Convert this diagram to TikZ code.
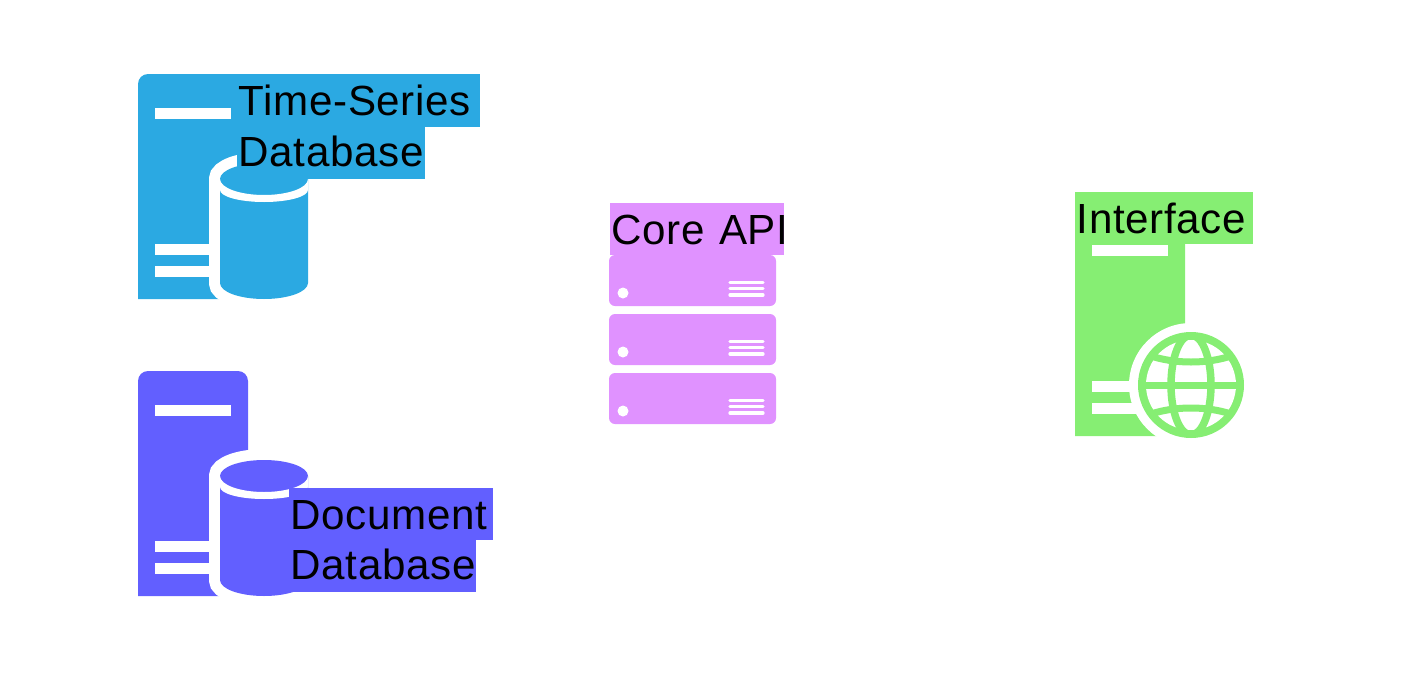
\documentclass[tikz,border=0pt]{standalone}
\usepackage{fontspec}
\setmainfont[LetterSpace=1.5]{Liberation Sans}
\usetikzlibrary{positioning}

\definecolor{tsblue}{HTML}{2BA9E2}
\definecolor{docpurple}{HTML}{625FFF}
\definecolor{apipink}{HTML}{E092FF}
\definecolor{webgreen}{HTML}{86EE73}

\begin{document}
\begin{tikzpicture}[
    x=0.02cm, y=-0.02cm,
    tag/.style={anchor=north west, inner xsep=0.03cm, inner ysep=0pt, text height=0.82cm, text depth=0.22cm, align=left, text=black, font=\fontsize{24}{28}\selectfont},
    tagnext/.style={tag, yshift=0.02cm, text height=0.78cm, text depth=0.26cm},
    bar/.style={fill=white},
    % tower with its three bars
    pics/tower/.style={code={
        \fill[#1] (0,225) [rounded corners=0.2cm] -- (0,0) -- (110,0) [sharp corners] -- (110,225) -- cycle;
        \fill[bar] (17,34) rectangle (93,45);
        \fill[bar] (17,170) rectangle (93,181);
        \fill[bar] (17,192) rectangle (93,203);
    }},
    % database drum on the tower
    pics/drum/.style={code={
        \draw[white, line width=0.44cm, fill=white] (82,105) arc[start angle=180, end angle=0, x radius=44, y radius=-16] -- (170,209) arc[start angle=0, end angle=180, x radius=44, y radius=16] -- cycle;
        \fill[#1] (82,105) arc[start angle=180, end angle=0, x radius=44, y radius=-16] -- (170,209) arc[start angle=0, end angle=180, x radius=44, y radius=16] -- cycle;
        \fill[white] (82,105) arc[start angle=180, end angle=0, x radius=44, y radius=16] -- (170,116) arc[start angle=0, end angle=180, x radius=44, y radius=12] -- cycle;
    }}
]
\useasboundingbox (0,0) rectangle (1404,673);

% Time-series database
\pic at (138,74) {tower=tsblue};
\pic at (138,74) {drum=tsblue};
\node[tag, fill=tsblue, text depth=0.24cm, text width=4.80cm] (tsline) at (237,74) {Time-Series};
\node[tagnext, fill=tsblue, text width=3.70cm] (tsbase) at (tsline.south west) {Database};

% Document database
\pic at (138,371) {tower=docpurple};
\pic at (138,371) {drum=docpurple};
\node[tag, fill=docpurple, text width=4.02cm] (docline) at (289,488) {Document};
\node[tagnext, fill=docpurple, text width=3.68cm] (docbase) at (docline.south west) {Database};

% Core API racks
\foreach \y in {255,314,373} {
    \fill[apipink, rounded corners=0.12cm] (609,\y) rectangle (776,\y+51);
    \fill[white] (623,\y+38) circle (5.5);
    \foreach \b in {27.5,33.5,40}
        \draw[white, line width=0.066cm, line cap=round] (730,\y+\b) -- (763,\y+\b);
}
\node[tag, fill=apipink, text width=3.42cm] (api) at (610,203) {Core~API};

% Interface
\pic at (1075,211) {tower=webgreen};
\fill[white] (1191,385) circle (62);
\fill[webgreen] (1191,385) circle (53);
\fill[white] (1191,385) circle (45);
\begin{scope}
    \clip (1191,385) circle (46);
    \draw[webgreen, line width=0.15cm] (1191,385) ellipse (20 and 50);
    \draw[webgreen, line width=0.14cm] (1140,385) -- (1242,385);
    \draw[webgreen, line width=0.14cm] (1143,353) .. controls (1171,365) and (1211,365) .. (1239,353);
    \draw[webgreen, line width=0.14cm] (1143,417) .. controls (1171,405) and (1211,405) .. (1239,417);
\end{scope}
\node[tag, fill=webgreen, text width=3.50cm] (iface) at (1075,192) {Interface};
\end{tikzpicture}
\end{document}
